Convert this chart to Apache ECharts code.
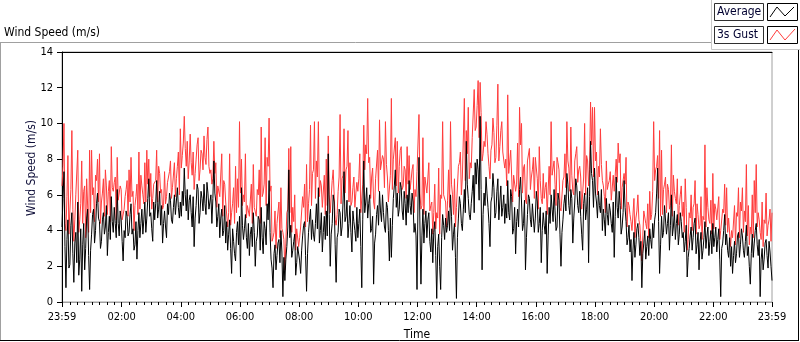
<!DOCTYPE html>
<html><head><meta charset="utf-8">
<script src="https://cdn.jsdelivr.net/npm/echarts@6/dist/echarts.min.js"></script>
<style>html,body{margin:0;padding:0;background:#fff}#c{width:800px;height:342px}</style>
</head><body><div id="c"></div>
<script>
// ---- data (one sample every 2 minutes, starting 23:59) ----
const stepMinutes = 2;
const tickMinutes = [0, 121, 241, 361, 481, 601, 721, 841, 961, 1081, 1201, 1321, 1440];
const tickLabels = ['23:59','02:00','04:00','06:00','08:00','10:00','12:00','14:00','16:00','18:00','20:00','22:00','23:59'];
const seriesNames = ['Average', '3s Gust'];
const average = [
4.2,5.8,7.3,3.1,0.8,3.5,4.6,1.9,2.1,4.3,5.0,2.7,1.1,3.3,3.9,2.2,5.6,1.5,2.4,4.1,0.6,3.2,4.4,1.8,3.0,4.7,5.2,2.6,0.7,2.9,
3.8,4.9,5.2,3.3,4.0,5.5,6.1,4.7,4.5,3.0,3.4,4.6,5.0,3.8,4.2,5.4,2.6,3.9,4.8,3.5,5.9,4.5,3.9,5.3,4.4,3.6,6.3,4.4,3.7,5.1,
4.6,3.4,2.3,4.0,3.6,5.1,4.8,3.7,3.9,4.9,5.5,3.8,4.1,2.9,3.2,4.5,2.4,4.0,5.0,3.6,4.4,5.2,3.8,4.6,5.6,3.9,4.7,5.8,6.9,4.8,
5.0,4.1,3.4,5.6,4.6,5.5,6.8,4.7,5.2,6.2,4.3,5.4,3.3,4.4,5.1,4.2,3.6,5.5,4.9,6.1,5.7,4.6,4.4,5.3,6.0,4.9,4.8,6.4,5.3,4.7,
5.6,4.8,6.2,5.4,7.5,6.0,5.1,6.3,4.6,5.7,6.0,5.0,4.2,5.9,3.1,4.7,5.4,6.6,6.3,4.4,5.0,6.2,5.8,5.1,6.6,5.5,4.9,6.7,6.1,5.2,
5.3,6.0,4.4,5.8,7.9,6.1,5.6,4.2,4.8,5.5,3.6,4.7,5.2,3.7,4.0,5.4,3.3,4.5,2.9,3.8,4.6,3.0,1.6,4.1,3.4,2.7,2.3,3.9,4.5,3.2,
4.8,1.4,6.4,4.3,3.5,4.1,4.9,3.6,3.0,4.4,2.6,3.8,4.2,3.1,5.0,3.9,2.0,3.4,3.7,4.8,4.6,2.9,5.3,3.6,2.7,4.5,4.1,3.2,5.5,4.6,
6.8,3.9,2.4,1.9,0.8,2.7,3.2,1.8,2.6,3.3,3.5,2.2,4.0,2.8,0.3,2.5,1.2,2.4,3.1,4.2,7.4,3.6,4.3,2.5,2.9,3.4,3.8,1.5,2.2,3.1,
3.0,2.3,1.6,2.9,3.7,4.3,4.5,2.6,0.6,2.7,3.9,4.6,5.2,3.5,4.6,3.8,3.4,4.4,5.5,4.1,6.4,3.3,4.0,5.0,2.8,3.9,4.8,3.5,5.1,3.7,
8.3,4.9,2.0,3.8,4.4,6.0,5.6,3.2,1.1,3.6,3.9,5.2,5.0,3.7,4.2,5.6,7.3,4.5,4.8,5.7,3.6,4.4,5.4,3.9,2.8,5.1,4.5,4.0,3.4,5.3,
3.6,4.4,5.2,3.1,0.8,4.6,7.9,5.0,5.6,6.4,4.7,5.5,6.0,3.9,4.1,4.8,1.0,3.3,3.8,4.9,5.4,4.3,6.2,5.1,4.5,6.0,5.0,4.2,3.9,5.6,
5.3,4.0,2.3,4.7,2.5,4.3,5.8,6.5,7.4,5.3,6.1,4.8,5.2,6.7,6.4,5.1,4.6,6.2,5.5,4.3,6.0,5.0,6.8,5.4,4.9,6.1,5.6,3.9,4.4,3.7,
0.7,5.6,8.1,4.2,1.0,3.7,5.2,3.3,4.4,5.1,3.6,4.6,5.0,3.4,2.8,4.1,2.2,3.9,4.5,2.6,0.2,3.1,3.8,2.0,0.7,3.6,4.9,4.3,3.5,4.7,
3.9,4.3,5.1,4.0,6.0,4.8,2.9,3.8,4.4,2.5,0.2,3.6,4.7,5.9,5.5,4.4,4.0,5.2,6.3,5.0,9.0,6.6,5.8,4.9,4.6,5.5,6.2,7.1,5.0,7.8,
6.6,8.0,7.4,5.7,10.4,6.3,1.8,4.9,6.1,5.4,7.0,6.1,5.3,4.4,3.1,5.6,5.9,7.2,6.4,4.7,5.0,6.2,6.9,4.6,5.6,6.5,4.8,5.3,6.0,4.4,
5.5,4.7,6.8,5.0,4.6,6.3,5.9,3.8,4.1,5.3,2.7,4.5,5.2,4.2,6.3,7.0,5.6,4.0,4.4,5.7,1.8,3.6,4.9,6.0,5.8,4.6,4.2,5.5,5.4,3.9,
4.7,6.2,5.6,3.9,4.4,5.3,2.2,4.0,5.0,4.3,3.8,5.1,1.6,3.7,5.3,4.4,6.0,5.2,4.5,6.3,5.1,4.0,4.2,6.1,5.7,3.8,2.0,3.9,4.6,5.5,
6.0,5.1,7.2,6.6,5.4,4.9,6.3,5.8,3.3,4.7,5.6,6.9,6.5,5.4,5.0,6.2,4.8,3.8,2.9,5.5,6.1,4.6,5.2,6.4,2.2,5.9,9.0,7.2,6.8,5.3,
7.5,6.1,5.6,4.7,6.2,5.4,5.0,6.3,4.0,5.2,4.6,3.7,5.8,4.9,4.3,5.5,5.1,4.4,3.9,5.6,2.5,4.8,7.0,5.3,4.7,6.2,5.4,3.8,4.2,5.0,
6.8,5.3,4.5,3.2,3.6,4.3,2.8,3.5,1.2,2.9,3.9,2.5,3.2,4.1,4.4,3.6,2.6,3.4,0.8,2.7,3.3,4.0,2.4,3.1,3.7,2.6,4.1,3.5,3.0,4.4,
3.6,4.6,5.0,6.1,7.5,4.5,1.6,3.2,4.8,3.6,3.9,5.4,5.3,3.8,4.4,5.0,2.9,4.3,6.0,3.7,4.2,5.1,3.5,4.4,4.9,3.2,3.8,5.0,4.5,3.6,
3.9,2.8,3.4,4.3,1.4,2.5,3.0,3.7,4.2,2.9,3.6,4.4,4.7,2.7,3.2,3.9,1.8,3.3,3.9,2.4,2.9,3.6,4.5,3.0,3.7,4.2,2.6,3.4,4.0,2.7,
4.4,3.1,3.6,4.2,2.8,3.5,4.1,2.4,0.3,3.0,3.3,4.0,4.9,3.2,3.8,2.9,2.5,3.6,2.0,3.1,1.6,2.6,3.4,2.2,2.7,3.7,3.9,2.5,3.2,4.1,
3.7,2.9,2.5,3.4,4.3,2.6,3.1,2.0,1.0,2.7,3.8,2.5,3.3,4.0,4.4,3.2,2.6,3.5,0.3,2.4,3.0,1.8,2.4,3.3,3.5,2.6,1.9,3.4,2.8,2.0,
1.2];
const gust = [
6.5,7.6,10.0,4.4,4.0,5.9,8.2,3.8,5.1,6.3,9.6,5.2,3.4,4.6,6.0,6.0,8.5,3.9,4.6,5.5,7.9,4.4,6.2,6.5,3.6,6.9,7.0,3.9,8.5,5.0,
8.5,6.0,6.4,4.5,7.1,6.8,8.0,5.6,8.3,4.4,5.6,6.1,6.9,4.8,7.4,6.5,4.9,6.2,6.8,4.5,8.7,6.4,6.2,6.7,7.0,4.6,8.1,5.7,5.8,6.5,
6.3,4.6,4.6,5.2,5.9,6.3,6.8,4.8,7.4,5.6,8.1,5.9,6.2,4.0,5.4,5.9,6.6,4.9,8.4,5.2,7.1,6.5,6.0,5.5,7.8,5.6,8.5,6.6,8.0,5.9,
7.2,5.2,5.8,6.6,6.7,6.8,8.5,5.6,7.6,7.2,6.1,6.3,5.2,5.4,7.3,5.5,5.9,6.7,6.6,7.3,7.9,5.8,6.4,6.5,7.8,5.9,6.9,7.6,8.4,6.0,
9.7,7.5,8.2,8.9,10.4,8.6,7.6,9.0,6.9,7.9,9.4,7.8,7.1,8.4,6.3,7.2,8.0,8.8,9.2,6.8,7.4,8.5,8.3,7.4,9.3,8.1,7.7,9.1,9.8,7.6,
7.2,7.4,6.6,6.9,9.0,7.2,7.8,5.3,6.5,6.5,5.9,5.9,8.3,4.8,6.8,6.6,5.6,5.6,4.2,5.0,8.3,4.3,5.0,5.5,6.4,4.4,7.6,5.0,6.9,5.3,
10.1,6.1,8.0,5.4,6.0,5.6,8.3,4.7,5.4,5.5,4.8,4.9,6.6,4.4,7.7,5.3,5.2,4.8,6.3,6.0,7.4,4.4,9.8,5.9,6.1,6.6,9.2,5.4,8.1,7.6,
10.3,6.2,6.5,3.4,3.6,3.9,5.1,3.0,4.4,4.3,5.6,3.6,6.4,4.1,3.9,3.5,1.8,3.3,5.0,5.2,8.6,5.0,8.7,3.9,5.3,4.5,6.0,2.9,4.1,4.2,
3.1,3.6,4.2,4.1,5.9,5.3,6.6,4.2,7.7,4.5,5.5,6.3,9.9,5.4,7.2,7.4,10.1,5.8,7.9,7.0,10.1,5.9,6.8,6.5,5.3,5.2,7.1,4.9,8.0,5.4,
9.3,6.0,5.0,5.1,6.8,7.4,7.5,4.6,4.3,4.9,6.2,7.0,10.5,5.5,6.9,7.1,9.7,6.1,7.4,7.6,9.6,5.6,7.8,5.4,5.6,6.4,7.0,5.3,6.1,6.7,
6.2,6.9,8.3,5.0,4.9,6.6,9.9,7.4,8.8,8.3,11.4,7.8,8.1,5.8,7.0,7.5,5.6,5.2,6.9,7.0,8.5,6.2,10.2,7.4,7.3,8.2,8.0,6.4,10.1,7.7,
7.0,5.6,5.6,7.1,11.4,6.3,8.0,7.9,9.2,6.5,9.0,6.1,7.6,8.5,8.7,6.3,6.5,7.6,7.4,5.8,8.7,6.6,8.2,6.3,6.8,7.4,7.7,5.0,6.3,5.9,
7.3,7.3,10.5,6.1,5.2,5.4,9.2,4.9,7.0,6.9,6.1,6.2,7.8,5.1,5.4,5.6,3.8,5.0,6.6,4.1,5.0,4.7,7.5,3.8,6.0,5.8,10.1,6.0,5.9,5.6,
4.2,5.7,7.4,5.3,10.1,6.6,6.0,4.9,6.9,4.2,5.3,5.4,7.6,7.8,8.4,6.0,7.0,7.1,11.4,6.8,9.6,8.3,10.9,6.9,7.8,7.5,9.2,9.1,11.9,9.6,
9.8,11.0,12.4,9.2,12.3,10.6,7.9,8.3,9.0,8.7,10.1,9.4,8.3,7.6,6.9,8.5,8.8,10.3,9.5,7.8,8.1,9.9,12.2,7.9,8.7,9.6,10.1,8.4,8.4,7.5,
8.0,6.5,11.6,7.2,7.3,8.5,8.6,5.6,7.1,7.2,6.2,6.6,8.9,5.9,10.9,8.8,10.0,6.1,7.5,7.7,5.7,5.5,7.9,8.0,8.6,6.3,7.0,7.4,8.1,5.8,
8.1,8.0,6.9,5.2,8.7,6.8,5.8,5.5,7.2,5.8,6.4,6.7,4.9,5.0,7.6,6.0,10.1,7.1,7.0,7.9,6.6,5.4,8.1,7.8,7.4,5.3,5.1,5.2,6.8,7.0,
8.3,6.4,10.1,7.9,7.5,6.2,9.8,7.1,6.2,6.0,7.9,8.3,8.7,6.7,7.4,7.6,7.0,5.2,6.1,7.0,10.0,6.0,8.2,7.9,6.5,7.4,11.2,8.8,10.9,7.0,
10.9,7.9,8.4,6.0,7.6,7.0,9.7,7.7,6.8,6.5,5.9,5.0,7.9,6.3,6.6,6.8,7.3,5.7,5.7,7.1,6.2,6.2,8.0,6.7,8.9,7.8,8.3,5.2,6.4,6.4,
7.2,6.6,8.1,4.2,5.6,5.4,4.9,4.5,4.0,3.9,5.8,3.6,4.7,5.1,6.0,4.6,4.3,4.4,2.3,3.7,5.1,5.0,4.4,4.1,5.5,3.6,6.2,4.6,4.9,6.2,
10.1,6.8,7.4,7.6,8.2,5.8,9.6,4.8,8.5,4.9,6.3,6.6,7.0,5.0,6.6,6.3,5.2,5.4,8.8,4.8,7.1,6.2,5.8,5.5,6.9,4.3,5.4,6.0,6.5,4.8,
5.6,3.9,6.9,5.3,2.9,3.5,5.0,4.7,6.0,4.0,5.3,5.5,6.8,3.8,5.5,4.9,4.1,4.3,5.9,3.5,4.8,4.6,8.8,4.2,6.4,5.3,4.6,4.4,5.7,3.8,
7.2,4.1,5.5,5.2,4.6,4.5,5.9,3.5,4.0,4.0,5.2,5.0,6.6,4.3,6.4,3.9,4.7,4.6,3.1,4.0,3.6,3.6,5.4,3.2,5.0,4.8,6.4,3.6,5.6,5.1,
6.4,3.9,5.1,4.5,7.7,3.7,5.4,3.2,4.2,3.8,6.0,3.6,6.8,5.0,7.7,4.2,5.0,4.6,3.9,3.5,5.6,3.1,4.6,4.4,6.1,3.7,4.3,4.6,5.2,3.4,
5.0];

// ---- build ----
const FONT = '"DejaVu Sans Condensed","DejaVu Sans",sans-serif';
const RED = '#ff3c3c';
const toPairs = arr => arr.map((v, i) => [i * stepMinutes, v]);
const minorTicks = [];
for (let m = 16; m < 1440; m += 15) { if ((m - 1) % 120 !== 0) minorTicks.push(m); }

const chart = echarts.init(document.getElementById('c'), null, {renderer: 'canvas'});
const option = {
  animation: false,
  backgroundColor: '#fff',
  grid: {left: 62, right: 28, top: 52, bottom: 40, show: true, borderColor: '#a0a0a0', borderWidth: 1, backgroundColor: '#fff', outerBoundsMode: 'none'},
  xAxis: [
    {type: 'value', min: 0, max: 1440, position: 'bottom',
     axisLine: {show: true, lineStyle: {color: '#a0a0a0', width: 1}},
     axisTick: {show: true, inside: false, length: 5, customValues: tickMinutes, lineStyle: {color: '#000'}},
     axisLabel: {show: true, customValues: tickMinutes, showMinLabel: true, showMaxLabel: true, hideOverlap: false,
       formatter: v => { const k = tickMinutes.indexOf(Math.round(v)); return k >= 0 ? tickLabels[k] : ''; },
       margin: 10, fontSize: 11, color: '#000', fontFamily: FONT},
     splitLine: {show: false},
     name: 'Time', nameLocation: 'middle', nameGap: 27,
     nameTextStyle: {fontSize: 12, color: '#000', fontFamily: FONT}},
    {type: 'value', min: 0, max: 1440, position: 'bottom',
     axisLine: {show: false},
     axisTick: {show: true, inside: false, length: 3, customValues: minorTicks, lineStyle: {color: '#000'}},
     axisLabel: {show: false}, splitLine: {show: false}},
    {type: 'value', min: 0, max: 1440, position: 'top',
     axisLine: {show: true, lineStyle: {color: '#000', width: 1}},
     axisTick: {show: false}, axisLabel: {show: false}, splitLine: {show: false}}
  ],
  yAxis: [{type: 'value', min: 0, max: 14, interval: 2,
    axisLine: {show: true, lineStyle: {color: '#000', width: 1}},
    axisTick: {show: true, inside: false, length: 5, lineStyle: {color: '#000'}},
    axisLabel: {margin: 9, fontSize: 11, color: '#000', fontFamily: FONT},
    splitLine: {show: false}}],
  series: [
    {name: seriesNames[1], type: 'line', xAxisIndex: 0, yAxisIndex: 0, data: toPairs(gust),
     showSymbol: false, symbol: 'none', sampling: null, lineStyle: {color: RED, width: 1}, itemStyle: {color: RED}, silent: true, z: 2},
    {name: seriesNames[0], type: 'line', xAxisIndex: 0, yAxisIndex: 0, data: toPairs(average),
     showSymbol: false, symbol: 'none', sampling: null, lineStyle: {color: '#000', width: 1}, itemStyle: {color: '#000'}, silent: true, z: 3}
  ],
  graphic: [
    {type: 'line', shape: {x1: 0, y1: 42.5, x2: 711, y2: 42.5}, style: {stroke: '#a0a0a0', lineWidth: 1}, silent: true},
    {type: 'line', shape: {x1: 0.5, y1: 42.5, x2: 0.5, y2: 340.5}, style: {stroke: '#a0a0a0', lineWidth: 1}, silent: true},
    {type: 'line', shape: {x1: 0, y1: 340.5, x2: 799, y2: 340.5}, style: {stroke: '#000', lineWidth: 1}, silent: true},
    {type: 'line', shape: {x1: 798.5, y1: 49.5, x2: 798.5, y2: 341}, style: {stroke: '#000', lineWidth: 1}, silent: true},
    {type: 'line', shape: {x1: 711.5, y1: 0, x2: 711.5, y2: 49.5}, style: {stroke: '#c8c8c8', lineWidth: 1}, silent: true},
    {type: 'line', shape: {x1: 711.5, y1: 49.5, x2: 800, y2: 49.5}, style: {stroke: '#c8c8c8', lineWidth: 1}, silent: true},
    {type: 'rect', shape: {x: 714.5, y: 3.5, width: 49, height: 17}, style: {fill: '#fff', stroke: '#303030', lineWidth: 1}, silent: true},
    {type: 'text', x: 717, y: 12, style: {text: seriesNames[0], fill: '#000030', font: '12px ' + FONT, verticalAlign: 'middle'}, silent: true},
    {type: 'rect', shape: {x: 767.5, y: 3.5, width: 30, height: 17}, style: {fill: '#fff', stroke: '#000', lineWidth: 1}, silent: true},
    {type: 'polyline', shape: {points: [[770, 17], [777, 7], [785, 16], [794, 7]]}, style: {stroke: '#000', lineWidth: 1, fill: null}, silent: true},
    {type: 'rect', shape: {x: 714.5, y: 26.5, width: 49, height: 17}, style: {fill: '#fff', stroke: '#303030', lineWidth: 1}, silent: true},
    {type: 'text', x: 717, y: 35, style: {text: seriesNames[1], fill: '#000030', font: '12px ' + FONT, verticalAlign: 'middle'}, silent: true},
    {type: 'rect', shape: {x: 767.5, y: 26.5, width: 30, height: 17}, style: {fill: '#fff', stroke: '#000', lineWidth: 1}, silent: true},
    {type: 'polyline', shape: {points: [[770, 40], [777, 30], [785, 40], [795, 29]]}, style: {stroke: RED, lineWidth: 1, fill: null}, silent: true},
    {type: 'text', x: 4, y: 33, style: {text: 'Wind Speed (m/s)', fill: '#000', font: '12px ' + FONT, verticalAlign: 'middle'}, silent: true},
    {type: 'text', x: 32, y: 168, rotation: Math.PI / 2, style: {text: 'Wind Speed (m/s)', fill: '#10103a', font: '12px ' + FONT, align: 'center', verticalAlign: 'middle'}, silent: true}
  ]
};
chart.setOption(option);
</script></body></html>
